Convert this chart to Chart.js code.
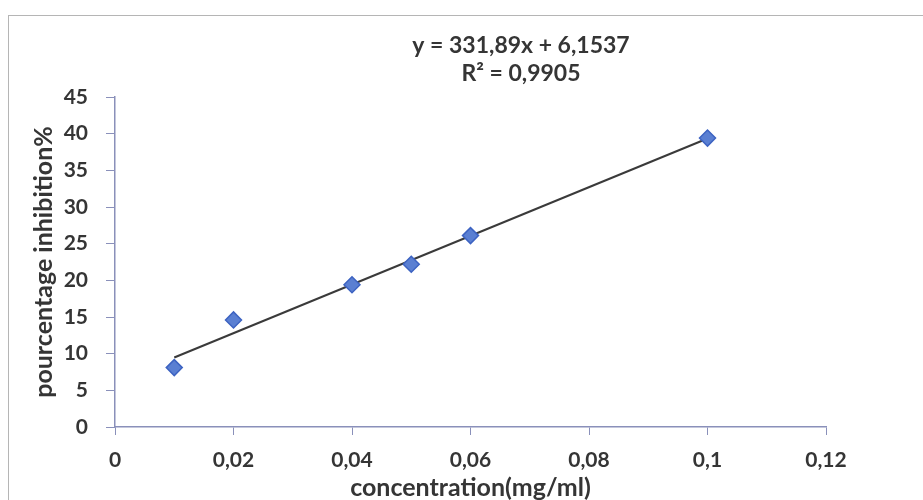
<!DOCTYPE html>
<html>
<head>
<meta charset="utf-8">
<script src="https://cdn.jsdelivr.net/npm/chart.js@4"></script>
<style>
  html, body { margin: 0; padding: 0; background: #fff; }
  #wrap { width: 923px; height: 500px; }
</style>
</head>
<body>
<div id="wrap"><canvas id="myChart" width="923" height="500"></canvas></div>
<script>
// concentrations (mg/ml) et % d'inhibition mesurés
const concentrations = [0.01, 0.02, 0.04, 0.05, 0.06, 0.1];
const inhibition = [8.1, 14.6, 19.4, 22.2, 26.1, 39.4];

// droite de tendance : y = 331,89x + 6,1537  (R² = 0,9905)
const pente = 331.89;
const ordonnee = 6.1537;
const r2 = 0.9905;

const xTicks = [0, 0.02, 0.04, 0.06, 0.08, 0.1, 0.12];
const yMax = 45;

const fontFamily = 'Lato, "Open Sans", sans-serif';
const axisColor = '#8a90ba';
const textColor = '#353535';

const virgule = v => String(+v.toFixed(4)).replace('.', ',');

const xMin = concentrations[0];
const xMax = concentrations[concentrations.length - 1];
const tendance = [
  { x: xMin, y: pente * xMin + ordonnee },
  { x: xMax, y: pente * xMax + ordonnee }
];

// texte de l'équation au-dessus du graphique + cadre
const equationPlugin = {
  id: 'equation',
  afterDraw(chart) {
    const ctx = chart.ctx;
    ctx.save();
    ctx.strokeStyle = '#b5b5b5';
    ctx.lineWidth = 1;
    ctx.strokeRect(8.5, 15.5, 930, 500);
    ctx.fillStyle = textColor;
    ctx.font = 'bold 23px ' + fontFamily;
    ctx.textAlign = 'center';
    ctx.textBaseline = 'middle';
    ctx.fillText('y = ' + virgule(pente) + 'x + ' + virgule(ordonnee), 521, 46);
    ctx.fillText('R² = ' + virgule(r2), 521, 74);
    ctx.restore();
  }
};

const data = {
  datasets: [{
    type: 'scatter',
    label: 'inhibition',
    data: concentrations.map((c, i) => ({ x: c, y: inhibition[i] })),
    pointStyle: 'rectRot',
    pointRadius: 8,
    pointHoverRadius: 8,
    backgroundColor: '#5a7fd2',
    borderColor: '#3d63c2',
    borderWidth: 1.5,
    order: 1
  }, {
    type: 'line',
    label: 'tendance',
    data: tendance,
    borderColor: '#3a3a3a',
    borderWidth: 2,
    pointRadius: 0,
    fill: false,
    order: 2
  }]
};

const config = {
  type: 'scatter',
  data: data,
  options: {
    responsive: false,
    animation: false,
    layout: { padding: { left: 0, top: 97, right: 97, bottom: 0 } },
    plugins: {
      legend: { display: false },
      tooltip: { enabled: false }
    },
    scales: {
      x: {
        type: 'linear',
        min: 0,
        max: 0.12,
        afterBuildTicks: axis => { axis.ticks = xTicks.map(v => ({ value: v })); },
        border: { color: axisColor, width: 1.5 },
        grid: { drawOnChartArea: false, drawTicks: true, tickLength: 8, color: axisColor },
        ticks: {
          color: textColor,
          padding: 13,
          font: { family: fontFamily, size: 21, weight: 'bold' },
          callback: v => virgule(v)
        },
        title: {
          display: true,
          text: 'concentration(mg/ml)',
          color: textColor,
          padding: { top: 0, bottom: 0 },
          font: { family: fontFamily, size: 25, weight: 'bold', lineHeight: 0.96 }
        },
        afterFit: axis => { axis.height = 73; }
      },
      y: {
        min: 0,
        max: yMax,
        border: { color: axisColor, width: 1.5 },
        grid: { drawOnChartArea: false, drawTicks: true, tickLength: 9, color: axisColor },
        ticks: {
          stepSize: 5,
          color: textColor,
          padding: 18,
          font: { family: fontFamily, size: 21, weight: 'bold' }
        },
        title: {
          display: true,
          text: 'pourcentage inhibition%',
          color: textColor,
          padding: { top: 31, bottom: 0 },
          font: { family: fontFamily, size: 25, weight: 'bold', lineHeight: 1 }
        },
        afterFit: axis => { axis.width = 115; }
      }
    }
  },
  plugins: [equationPlugin]
};

const ctx = document.getElementById('myChart').getContext('2d');
const myChart = new Chart(ctx, config);
</script>
</body>
</html>
